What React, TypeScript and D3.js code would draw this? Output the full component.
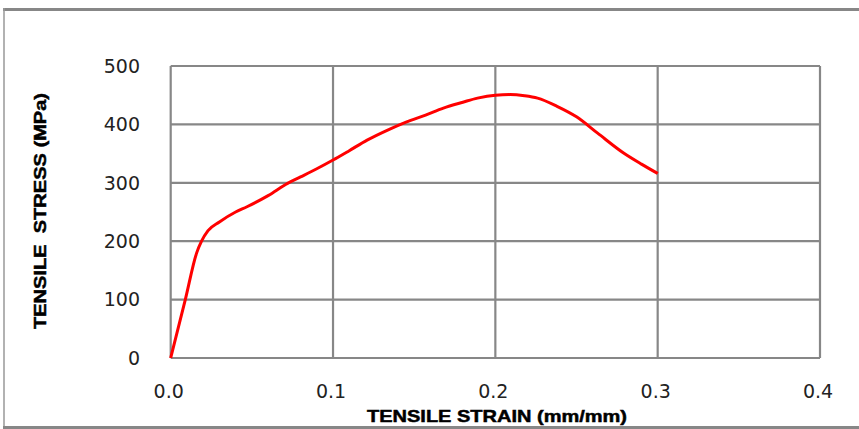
import React from "react";
import * as d3 from "d3";

const strain = [0, 0.009, 0.016, 0.019, 0.023, 0.030, 0.040, 0.047, 0.060, 0.072, 0.080, 0.090, 0.100, 0.110, 0.121, 0.135, 0.145, 0.157, 0.168, 0.180, 0.189, 0.200, 0.209, 0.218, 0.226, 0.238, 0.250, 0.263, 0.279, 0.290, 0.300];
const stress = [0, 100, 180, 200, 218, 233, 250, 259, 278, 299, 310, 324, 339, 355, 373, 392, 404, 416, 428, 438, 445, 450, 451, 449, 445, 431, 413, 385, 351, 332, 316];
const xTicks = [0, 0.1, 0.2, 0.3, 0.4];
const yTicks = [0, 100, 200, 300, 400, 500];
const xTitle = "TENSILE STRAIN (mm/mm)";
const yTitle = "TENSILE  STRESS (MPa)";

const W = 859;
const H = 429;
const GRID = "#878787";

export default function App() {
  const x = d3.scaleLinear().domain([0, 0.4]).range([170.7, 820]);
  const y = d3.scaleLinear().domain([0, 500]).range([358, 66]);
  const pts: [number, number][] = strain.map((s, i) => [s, stress[i]]);
  const line = d3
    .line<[number, number]>()
    .x((d) => x(d[0]))
    .y((d) => y(d[1]))
    .curve(d3.curveMonotoneX);

  return (
    <svg
      width={W}
      height={H}
      style={{ position: "absolute", left: 0, top: 0, background: "#fff" }}
    >
      {/* chart area border */}
      <line x1={3} x2={W} y1={9.5} y2={9.5} stroke={GRID} strokeWidth={3} />
      <line x1={4} x2={4} y1={8} y2={428} stroke="#999" strokeWidth={1.5} />
      <line x1={3} x2={W} y1={427.5} y2={427.5} stroke={GRID} strokeWidth={3} />

      {/* grid */}
      {yTicks.map((t) => (
        <line key={"h" + t} x1={x(0)} x2={x(0.4)} y1={y(t)} y2={y(t)} stroke={GRID} strokeWidth={2.2} />
      ))}
      {xTicks.map((t) => (
        <line key={"v" + t} x1={x(t)} x2={x(t)} y1={y(500)} y2={y(0)} stroke={GRID} strokeWidth={2.2} />
      ))}

      {/* tick labels */}
      {yTicks.map((t) => (
        <text
          key={"yl" + t}
          x={140}
          y={y(t)}
          dy="0.36em"
          textAnchor="end"
          fontFamily="DejaVu Sans"
          fontSize={19}
          fill="#222"
        >
          {t}
        </text>
      ))}
      {xTicks.map((t) => (
        <text
          key={"xl" + t}
          x={x(t) - 2}
          y={391}
          dy="0.36em"
          textAnchor="middle"
          fontFamily="DejaVu Sans"
          fontSize={19}
          fill="#222"
        >
          {d3.format(".1f")(t)}
        </text>
      ))}

      {/* axis titles */}
      <text
        x={497}
        y={416}
        dy="0.36em"
        textAnchor="middle"
        fontFamily="Liberation Sans"
        fontWeight="bold"
        fontSize={17}
        textLength={260}
        lengthAdjust="spacingAndGlyphs"
        fill="#000"
        stroke="#000"
        strokeWidth={0.5}
      >
        {xTitle}
      </text>
      <text
        transform={`translate(40,211) rotate(-90)`}
        dy="0.36em"
        textAnchor="middle"
        fontFamily="Liberation Sans"
        fontWeight="bold"
        fontSize={17}
        textLength={236}
        lengthAdjust="spacingAndGlyphs"
        fill="#000"
        stroke="#000"
        strokeWidth={0.5}
        style={{ whiteSpace: "pre" }}
      >
        {yTitle}
      </text>

      {/* curve */}
      <path d={line(pts) ?? ""} fill="none" stroke="#ff0000" strokeWidth={3} strokeLinejoin="round" />
    </svg>
  );
}
